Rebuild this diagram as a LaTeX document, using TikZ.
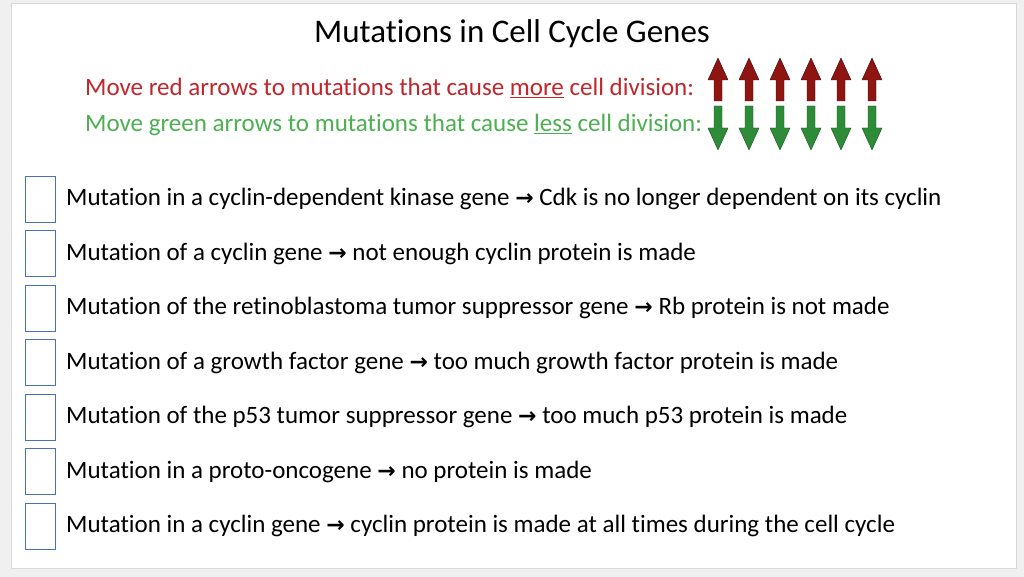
\documentclass[tikz,border=0pt]{standalone}
\usepackage{fontspec}
\setmainfont[Ligatures=NoCommon]{Carlito}
\newfontfamily\arrfont{DejaVu Sans}
\newcommand{\rarr}{{\arrfont\bfseries\fontsize{22}{26}\selectfont →}}
\definecolor{redtxt}{HTML}{C0262C}
\definecolor{greentxt}{HTML}{4CB050}
\definecolor{boxc}{HTML}{4A6FC0}
\definecolor{darkred}{HTML}{8E1512}
\definecolor{darkgreen}{HTML}{2E8B38}
\begin{document}
\begin{tikzpicture}[x=1pt,y=-1pt,
  item/.style={anchor=west,font=\fontsize{25}{28}\selectfont,inner sep=0pt},
  cb/.style={draw=boxc,line width=0.8pt,minimum width=30pt,minimum height=46pt,inner sep=0pt},
  uparr/.style={draw=black!60!darkred,fill=darkred,line width=0.4pt},
  dnarr/.style={draw=black!40!darkgreen,fill=darkgreen,line width=0.4pt}]
\fill[gray!12] (0,0) rectangle (1024,577);
\fill[white] (11,3) rectangle (1016,568);
\draw[gray!30] (11,3) rectangle (1016,568);
\node[font=\fontsize{33}{36}\selectfont] (title) at (512,34) {Mutations in Cell Cycle Genes};
\node[anchor=west,text=redtxt,font=\fontsize{25}{28}\selectfont,inner sep=0pt] (red) at (85,88) {Move red arrows to mutations that cause \underline{more} cell division:};
\node[anchor=west,text=greentxt,font=\fontsize{25}{28}\selectfont,inner sep=0pt] (green) at (85,125) {Move green arrows to mutations that cause \underline{less} cell division:};
\foreach \i/\x in {1/718,2/749,3/780,4/811,5/841,6/872}{
  \path[uparr] (\x-4,101) -- (\x-4,80) -- (\x-10,80) -- (\x,58) -- (\x+10,80) -- (\x+4,80) -- (\x+4,101) -- cycle;
  \path[dnarr] (\x-4,106) -- (\x-4,128) -- (\x-10,128) -- (\x,150) -- (\x+10,128) -- (\x+4,128) -- (\x+4,106) -- cycle;
}
\foreach \n/\t [count=\k from 0] in {
 a/{Mutation in a cyclin-dependent kinase gene \rarr\ Cdk is no longer dependent on its cyclin},
 b/{Mutation of a cyclin gene \rarr\ not enough cyclin protein is made},
 c/{Mutation of the retinoblastoma tumor suppressor gene \rarr\ Rb protein is not made},
 d/{Mutation of a growth factor gene \rarr\ too much growth factor protein is made},
 e/{Mutation of the p53 tumor suppressor gene \rarr\ too much p53 protein is made},
 f/{Mutation in a proto-oncogene \rarr\ no protein is made},
 g/{Mutation in a cyclin gene \rarr\ cyclin protein is made at all times during the cell cycle}}{
  \node[cb] (box\n) at (40,{199+54.5*\k}) {};
  \node[item] (t\n) at (66,{199+54.5*\k}) {\t};
}
\end{tikzpicture}
\end{document}
